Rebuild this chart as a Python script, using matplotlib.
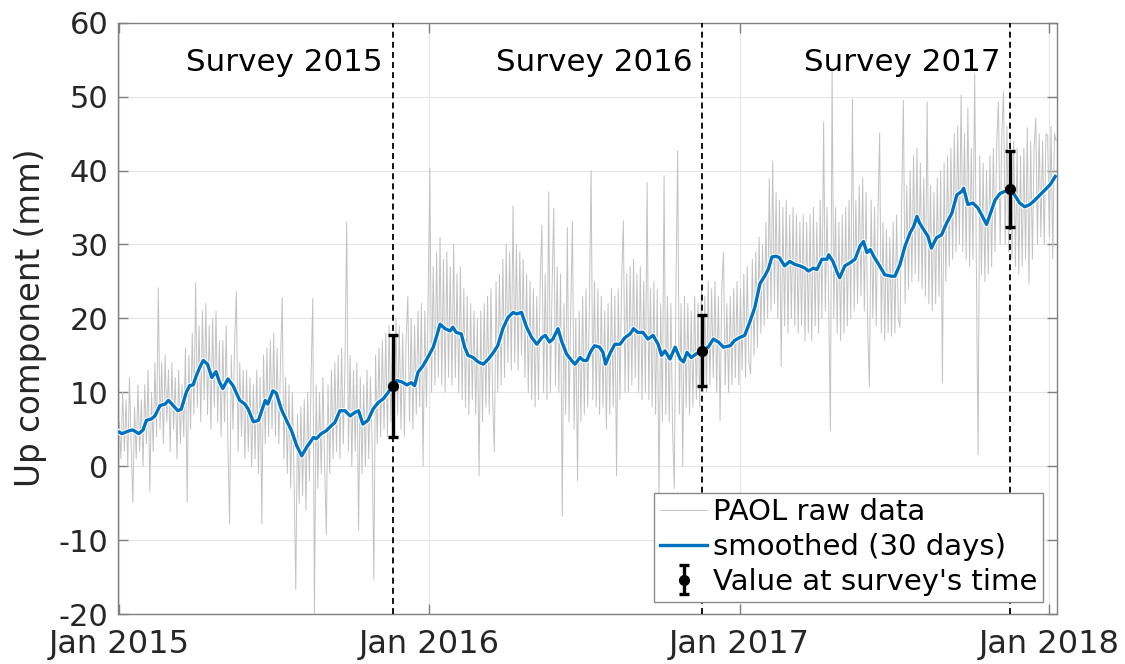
import numpy as np
import matplotlib
matplotlib.use("Agg")
import matplotlib.pyplot as plt
import matplotlib.dates as mdates
import matplotlib.patheffects as pe

plt.rcParams['font.family'] = ['DejaVu Sans']
plt.rcParams['axes.unicode_minus'] = False

START = np.datetime64('2015-01-01')

# raw GNSS Up values (mm), one value every 2 days from 2015-01-01 (15 values = 30 days per row)
raw_step_days = 2
raw_mm = [
    6, 1, 10, 2, 9, 0, 12, 3, -4.9, 8, 1, 11, 2, 9, 0,
    11, 3, 13, -3.4, 10, 2, 14, 4, 24.1, 5, 14, 3, 15, 6, 13,
    2, 14, 5, 12, 1, 13, 3, 11, 4, 16, -4.9, 15, 5, 18, 7,
    24.8, 8, 19, 6, 21, 9, 22, 7, 19, 5, 20, 8, 21, 6, 17,
    4, 17, 6, 19, 3, -7.8, 15, 5, 17, 23.6, 2, 14, 4, 13, 1,
    13, 2, 12, 0, 11, 1, 13, -1, 12, -7.8, 15, 3, 16, 4, 17,
    5, 18, 4, 16, 3, 14, 22.8, 1, 12, -1, 11, -3, 10, -2, -16.7,
    7, -5, 8, -4, 9, -6, 10, -2, 12, 22.7, -20, 11, -3, 10, -1,
    12, 0, -9.2, 11, -1, 13, 1, 14, 2, 15, 1, 16, 3, 14, 33,
    2, 15, 0, 13, 2, 14, -8.7, 12, -1, 11, 0, 13, 1, 12, 3,
    -15.3, 15, 3, 16, 4, 17, 5, 18, 4, 19, 6, 17, 5, 20, 7,
    19, 5, 18, 4, 17, 23, 6, 20, 5, 19, 7, 21, 8, 22, 0,
    21, 8, 23, 40.3, 10, 27, 11, 29, 12, 31, 11, 28, 10, 29, 12,
    27, 11, 30, 12, 26, 10, 27, 9, 24, 8, 23, 7, 22, 9, 21,
    7, 20, -1.3, 21, 6, 22, 8, 23, 7, 24, 9, 1.9, 25, 10, 26,
    11, 28, 12, 30, 14, 29, 13, 35.2, 14, 30, 13, 29, 15, 28, 12,
    26, 10, 25, 9, 24, 8, 23, 9, 25, 32.6, 10, 26, 9, 37.1, 10,
    24, 34.9, 11, 27, 10, 26, -6.8, 22, 7, 32.3, 6, 21, 33.1, 5, 20,
    -2, 21, 6, 23, 7, 24, 8, 22, 40, 9, 25, 8, 24, 7, 23,
    8, 21, 5, 22, 7, 24, 8, 23, -1.3, 24, 9, 25, 33.2, 10, 26,
    10, 27, 11, 28, 12, 26, 10, 27, 9, 25, 10, 38.4, 9, 24, 8,
    25, 7, 24, -4.6, 22, 6, 39.3, 7, 23, 6, 22, 5, -3, 24, 42.7,
    7, 22, 0, 23, 8, 22, 7, 21, 8, 23, 9, 22, 8, 24, 10,
    23, 10, 25, 11, 24, 12, 25, 10, 23, 6.2, 24, 28.9, 11, 22, 10,
    23, 11, 24, 12, 25, 11, 24, 13, 26, 12, 27, 14, 12.5, 28, 15,
    29, 16, 31, 18, 30, 19, 33, 20, 38.9, 21, 41.3, 22, 37, 20, 36,
    13.5, 35, 19, 36, 18, 34, 20, 35, 19, 34, 18, 33, 19, 34, 17,
    33, 18, 34, 17, 35, 19, 33, 18, 36, 20, 46.6, 21, 35, 22, 4.8,
    53.6, 20, 35, 18, 33, 17, 34, 18, 35, 19, 36, 20, 49.7, 21, 36,
    22, 38, 23, 39, 21, 37, 18.5, 10.8, 36, 20, 35, 19, 34, 45.1, 18,
    33, 17, 32, 18, 31, 17.6, 33, 18, 34, 20, 18.8, 36, 49.5, 22, 38,
    24, 40, 25, 42, 26, 43, 25, 41, 24, 39, 23, 49.3, 22, 38, 21,
    37, 22, 39, 23, 40, 11.3, 41, 25, 42, 27, 43, 28, 45, 29, 46,
    30, 50.2, 29, 45, 28, 48.5, 27, 43, 28, 53.1, 27, 1.5, 42, 26, 41,
    25, 40, 26, 42, 27, 43, 29, 44, 49.3, 30, 45, 50.7, 30, 46, 29,
    45, 28, 44, 27, 43, 26, 42, 27, 43, 28, 45.8, 24.6, 44, 28, 43,
    47.1, 30, 45, 31, 44, 30, 45, 44.7, 31, 46, 28, 45, 44,
]

# 30-day smoothed curve: (day since 2015-01-01, mm)
smoothed = [
    (0, 4.6), (3, 4.4), (12, 4.8), (16, 4.9), (23, 4.4), (28, 4.9), (32, 6.2), (38, 6.4),
    (42, 6.8), (48, 8.2), (54, 8.4), (58, 8.9), (62, 8.4), (69, 7.5), (73, 7.7), (79, 10.0),
    (83, 10.9), (87, 11.0), (91, 12.3), (95, 13.4), (99, 14.3), (104, 13.8), (109, 12.0),
    (114, 12.8), (118, 11.4), (122, 10.5), (128, 11.8), (134, 10.9), (142, 8.9), (148, 8.4),
    (152, 7.7), (158, 6.0), (164, 6.2), (172, 8.9), (175, 8.4), (181, 10.2), (185, 9.9),
    (191, 7.7), (197, 6.2), (203, 4.8), (209, 2.8), (215, 1.4), (221, 2.6), (229, 3.9),
    (232, 3.7), (238, 4.4), (244, 4.8), (250, 5.5), (254, 5.9), (260, 7.5), (266, 7.5),
    (272, 6.8), (278, 7.3), (282, 7.5), (287, 5.7), (293, 6.2), (299, 7.7), (305, 8.6),
    (311, 9.1), (317, 10.0), (322, 10.9), (327, 11.6), (333, 11.4), (339, 11.0), (344, 11.3),
    (348, 10.9), (352, 12.7), (358, 13.6), (364, 14.8), (370, 16.1), (374, 17.6), (378, 19.2),
    (384, 18.6), (390, 18.3), (393, 18.8), (397, 18.1), (403, 17.9), (407, 16.1), (411, 15.0),
    (417, 14.7), (423, 14.1), (429, 13.8), (435, 14.5), (441, 15.4), (446, 16.3), (452, 18.6),
    (458, 20.1), (464, 20.8), (468, 20.6), (474, 20.8), (480, 18.8), (486, 17.4), (492, 16.5),
    (498, 17.4), (502, 17.7), (507, 16.8), (511, 17.2), (517, 18.6), (521, 17.0), (527, 15.2),
    (533, 14.3), (537, 13.8), (543, 14.7), (547, 14.3), (551, 14.3), (555, 15.4), (560, 16.3),
    (566, 16.1), (570, 15.4), (573, 13.8), (578, 15.2), (584, 16.5), (590, 16.5), (596, 17.4),
    (602, 17.9), (606, 18.6), (611, 18.1), (617, 18.1), (623, 17.2), (629, 17.7), (635, 16.5),
    (639, 15.0), (643, 15.6), (649, 14.5), (655, 16.1), (661, 14.5), (665, 14.1), (669, 15.4),
    (674, 14.7), (680, 15.2), (686, 15.6), (694, 16.1), (700, 17.2), (706, 16.8), (712, 16.1),
    (720, 16.3), (725, 17.0), (731, 17.4), (737, 17.7), (743, 19.5), (749, 21.5), (755, 24.7),
    (761, 25.8), (765, 26.7), (769, 28.3), (774, 28.4), (778, 28.2), (784, 27.1), (790, 27.7),
    (796, 27.3), (802, 27.1), (808, 26.8), (812, 26.4), (818, 26.8), (822, 26.6), (828, 28.0),
    (834, 28.0), (836, 28.6), (841, 27.7), (846, 26.2), (849, 25.5), (855, 27.1), (861, 27.5),
    (867, 28.0), (873, 29.8), (877, 30.4), (881, 28.9), (885, 29.3), (890, 28.2), (896, 27.1),
    (902, 25.9), (910, 25.7), (914, 25.7), (920, 27.3), (926, 29.8), (932, 31.6), (936, 32.4),
    (940, 33.8), (943, 32.9), (949, 31.8), (953, 31.1), (957, 29.5), (963, 30.9), (969, 31.3),
    (975, 32.9), (981, 34.2), (987, 36.7), (993, 37.2), (995, 37.6), (1000, 35.4), (1006, 35.6),
    (1012, 34.9), (1018, 33.6), (1022, 32.7), (1026, 34.0), (1032, 36.0), (1038, 36.9),
    (1044, 37.2), (1050, 37.5), (1055, 36.7), (1061, 35.6), (1067, 35.1), (1073, 35.4),
    (1079, 36.0), (1085, 36.7), (1091, 37.4), (1097, 38.1), (1103, 39.2),
]

survey_dates = ['2015-11-19', '2016-11-18', '2017-11-16']
survey_mm = [10.8, 15.6, 37.5]
survey_err = [6.9, 4.8, 5.1]
survey_labels = ['Survey 2015', 'Survey 2016', 'Survey 2017']

year_ticks = ['2015-01-01', '2016-01-01', '2017-01-01', '2018-01-01']
y_ticks = [-20, -10, 0, 10, 20, 30, 40, 50, 60]

legend_labels = ['PAOL raw data', 'smoothed (30 days)', "Value at survey's time"]

# ---------------------------------------------------------------
raw_x = START + np.arange(len(raw_mm)) * raw_step_days * np.timedelta64(1, 'D')
sm_days = np.array([d for d, _ in smoothed])
sm_vals = np.array([v for _, v in smoothed])
sm_x = START + sm_days * np.timedelta64(1, 'D')
sv_x = np.array(survey_dates, dtype='datetime64[D]')

fig = plt.figure(figsize=(11.25, 6.64), dpi=100)
ax = fig.add_axes([118 / 1125, 1 - 614 / 664, (1056.7 - 118) / 1125, (614 - 22.7) / 664])

spine_c = '#808080'
text_c = '#262626'

ax.plot(raw_x, raw_mm, color='#c2c2c2', lw=0.7, zorder=2, label=legend_labels[0])
ax.plot(sm_x, sm_vals, color='#0072BD', lw=2.4, zorder=3, label=legend_labels[1],
        path_effects=[pe.Stroke(linewidth=3.9, foreground='white'), pe.Normal()])

for d in sv_x:
    ax.axvline(d, color='black', lw=1.3, dashes=(3.3, 2.3), zorder=4)

ax.errorbar(sv_x, survey_mm, yerr=survey_err, fmt='o', color='black', ms=7,
            elinewidth=2.4, capsize=3.8, capthick=2.4, zorder=5, label=legend_labels[2])

for d, lab in zip(sv_x, survey_labels):
    ax.annotate(lab, xy=(d, 53.5), xytext=(-7, 0), textcoords='offset points',
                ha='right', va='baseline', fontsize=22.3, color='black', zorder=6)

ax.set_xlim(np.datetime64('2014-12-30T12:00'), np.datetime64('2018-01-09T16:00'))
ax.set_ylim(-20, 60)
ax.set_yticks(y_ticks)
ax.set_yticklabels([str(v) for v in y_ticks])
ax.set_xticks(np.array(year_ticks, dtype='datetime64[D]'))
ax.xaxis.set_major_formatter(mdates.DateFormatter('Jan %Y'))

ax.grid(True, color='#e6e6e6', lw=0.8, zorder=0)
ax.set_axisbelow(True)
for s in ax.spines.values():
    s.set_color(spine_c)
    s.set_linewidth(1.0)
ax.tick_params(direction='in', length=7, width=1.0, color=spine_c, top=True, right=True,
               labelsize=22, labelcolor=text_c)
ax.tick_params(axis='x', pad=11, labelsize=23)
ax.tick_params(axis='y', pad=7)

fig.text(0.027, 1 - 318 / 664, 'Up component (mm)', rotation=90, ha='center', va='center',
         fontsize=23.5, color=text_c)

leg = ax.legend(loc='lower right', bbox_to_anchor=(0.9854, 0.0208), borderaxespad=0,
                fontsize=21, frameon=True, fancybox=False, framealpha=1,
                edgecolor='#8a8a8a', borderpad=0.2, labelspacing=0.23,
                handlelength=1.6, handletextpad=0.2)
leg.get_frame().set_linewidth(1.0)
for t in leg.get_texts():
    t.set_color('black')

fig.savefig('out.png', dpi=100)
